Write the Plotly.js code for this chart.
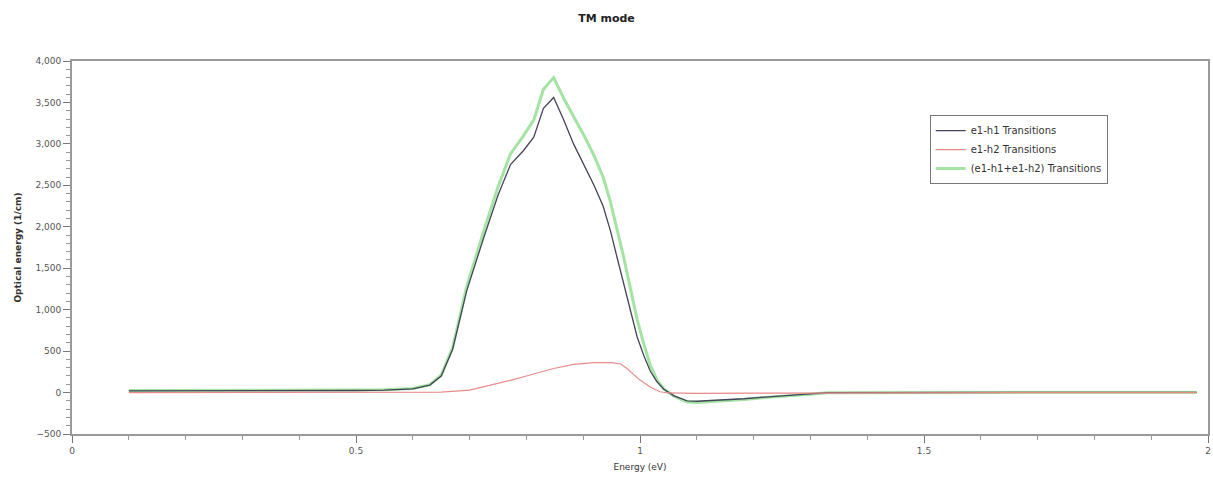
<!DOCTYPE html>
<html>
<head>
<meta charset="utf-8">
<script src="https://cdn.plot.ly/plotly-3.0.1.min.js"></script>
<style>html,body{margin:0;padding:0;background:#fff;}#chart{width:1213px;height:477px;}</style>
</head>
<body>
<div id="chart"></div>
<script>
const xE1H1 = [0.1,0.2,0.3,0.4,0.5,0.55,0.6,0.63,0.65,0.67,0.695,0.725,0.75,0.772,0.795,0.813,0.83,0.848,0.865,0.883,0.9,0.919,0.935,0.948,0.96,0.971,0.983,0.995,1.007,1.018,1.03,1.042,1.06,1.083,1.1,1.15,1.183,1.22,1.271,1.3,1.33,1.4,1.5,1.6,1.7,1.8,1.9,1.98];
const yE1H1 = [20,20,20,22,25,30,45,90,200,520,1230,1870,2380,2750,2920,3080,3430,3560,3300,3000,2770,2500,2250,1950,1620,1310,990,670,440,260,130,40,-40,-100,-105,-90,-75,-55,-35,-15,0,2,3,3,3,3,3,3];

const xE1H2 = [0.1,0.2,0.3,0.4,0.5,0.6,0.65,0.7,0.74,0.772,0.8,0.825,0.848,0.883,0.919,0.95,0.966,0.977,0.989,1.0,1.018,1.035,1.05,1.1,1.2,1.3,1.4,1.5,1.6,1.7,1.8,1.9,1.98];
const yE1H2 = [0,0,0,0,0,2,5,30,90,147,200,250,290,340,360,360,345,290,220,150,66,10,-5,-10,-8,-5,0,0,0,0,0,0,0];

const xSum = [0.1,0.2,0.3,0.4,0.5,0.55,0.6,0.63,0.65,0.67,0.695,0.725,0.75,0.772,0.795,0.813,0.83,0.848,0.865,0.883,0.9,0.919,0.935,0.948,0.96,0.971,0.983,0.995,1.007,1.018,1.03,1.042,1.06,1.083,1.1,1.15,1.183,1.22,1.271,1.3,1.33,1.4,1.5,1.6,1.7,1.8,1.9,1.98];
const ySum = [25,25,25,27,30,35,50,95,210,540,1280,1950,2480,2880,3100,3290,3660,3800,3560,3330,3120,2860,2600,2300,1960,1640,1260,880,580,330,150,45,-45,-115,-120,-100,-85,-60,-40,-20,-3,0,0,0,0,0,0,0];

const seriesNames = ["e1-h1 Transitions","e1-h2 Transitions","(e1-h1+e1-h2) Transitions"];

const traces = [
  {x: xSum, y: ySum, name: seriesNames[2], mode: "lines", legendrank: 3, line: {color: "#a3e4a3", width: 3}},
  {x: xE1H1, y: yE1H1, name: seriesNames[0], mode: "lines", legendrank: 1, line: {color: "#44445a", width: 1.3}},
  {x: xE1H2, y: yE1H2, name: seriesNames[1], mode: "lines", legendrank: 2, line: {color: "#e88a8a", width: 1.2}}
];

const layout = {
  width: 1213, height: 477,
  margin: {l: 72, r: 5, t: 61, b: 43},
  paper_bgcolor: "#fff", plot_bgcolor: "#fff",
  font: {family: "DejaVu Sans, Verdana, sans-serif", size: 9, color: "#444"},
  title: {text: "<b>TM mode</b>", x: 0.5, xanchor: "center", y: 0.962, yanchor: "middle", font: {size: 11, color: "#222"}},
  xaxis: {
    range: [0, 2], tickvals: [0, 0.5, 1, 1.5, 2], ticktext: ["0","0.5","1","1.5","2"],
    ticks: "outside", ticklen: 7, tickcolor: "#777", tickwidth: 1,
    minor: {dtick: 0.1, ticks: "outside", ticklen: 4, tickcolor: "#999", showgrid: false},
    showgrid: false, zeroline: false, showline: true, linecolor: "#999", linewidth: 2, mirror: true,
    title: {text: "Energy (eV)", standoff: 9, font: {size: 9, color: "#333"}},
    tickfont: {size: 9, color: "#555"}
  },
  yaxis: {
    range: [-500, 4000], dtick: 500, tickformat: ",d",
    ticks: "outside", ticklen: 7, tickcolor: "#777", tickwidth: 1,
    minor: {dtick: 100, ticks: "outside", ticklen: 4, tickcolor: "#999", showgrid: false},
    showgrid: false, zeroline: false, showline: true, linecolor: "#999", linewidth: 2, mirror: true,
    title: {text: "<b>Optical energy (1/cm)</b>", standoff: 12, font: {size: 9, color: "#333"}},
    tickfont: {size: 9, color: "#555"}
  },
  legend: {
    x: 0.755, y: 0.855, xanchor: "left", yanchor: "top",
    bordercolor: "#777", borderwidth: 1, bgcolor: "#fff",
    font: {size: 10, color: "#333"}, traceorder: "normal", itemwidth: 30,
    tracegroupgap: 0
  },
  showlegend: true
};

Plotly.newPlot("chart", traces, layout, {displayModeBar: false, staticPlot: true});
</script>
</body>
</html>
